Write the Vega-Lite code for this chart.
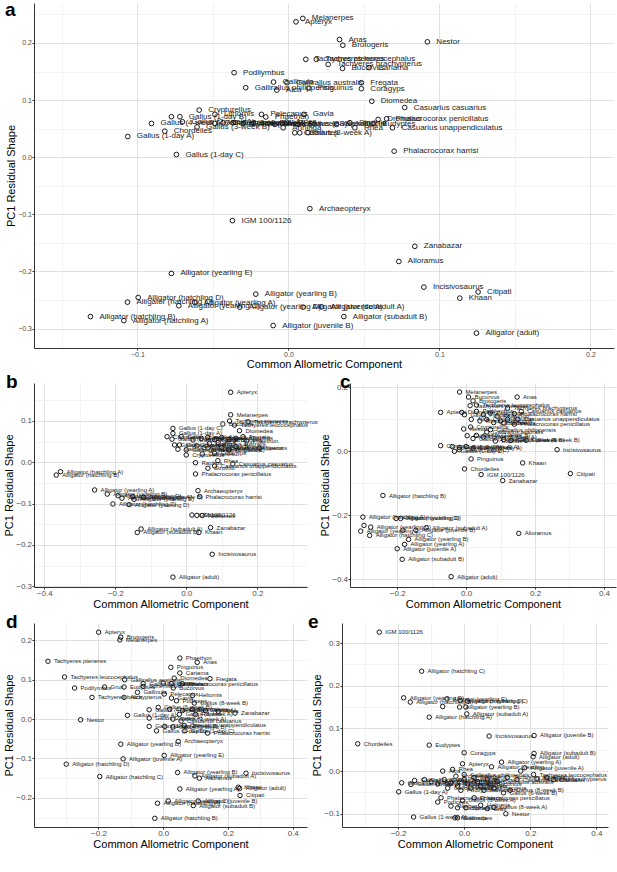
{
"$schema":"https://vega.github.io/schema/vega-lite/v6.json",
"padding":{"left":3,"top":1,"right":2,"bottom":0},
"background":"white",
"spacing":3,
"config":{
 "font":"Liberation Sans",
 "view":{"stroke":null},
 "concat":{"spacing":1},
 "axis":{"labelFont":"Liberation Sans","titleFont":"Liberation Sans","labelColor":"#4d4d4d","tickColor":"#333333","tickSize":2,"labelPadding":0.5,"domainColor":"#333333","domainWidth":1,"titleFontWeight":"normal","titleFontSize":11,"titleColor":"black","titlePadding":1,"grid":true,"gridWidth":0.8,"labelFlush":false,"labelOverlap":false,"labelFontSize":8},
 "title":{"font":"Liberation Sans","fontWeight":"bold","fontSize":19,"anchor":"start","frame":"group","color":"black"},
 "text":{"fill":"#1a1a1a"}
},
"datasets":{
"a":[
{"x":0.0095,"y":0.243,"label":"Melanerpes"},{"x":0.005,"y":0.237,"label":"Apteryx"},{"x":0.0338,"y":0.206,"label":"Anas"},{"x":0.036,"y":0.196,"label":"Brotogeris"},{"x":0.092,"y":0.202,"label":"Nestor"},
{"x":0.0115,"y":0.1714,"label":"Tachyeres pteneres"},{"x":0.0185,"y":0.1714,"label":"Tachyeres leucocephalus"},{"x":0.0263,"y":0.1626,"label":"Tachyeres brachypterus"},{"x":0.0358,"y":0.1556,"label":"Bucorvus"},{"x":0.0534,"y":0.1568,"label":"Cariama"},
{"x":-0.036,"y":0.148,"label":"Podilymbus"},{"x":-0.0099,"y":0.1316,"label":"Gallinula"},{"x":-0.001,"y":0.1305,"label":"Gallirallus australis"},{"x":-0.0283,"y":0.1217,"label":"Gallirallus philippensis"},{"x":-0.0077,"y":0.1175,"label":"Alca"},{"x":0.0135,"y":0.121,"label":"Pinguinus"},{"x":0.0483,"y":0.1305,"label":"Fregata"},{"x":0.0483,"y":0.12,"label":"Coragyps"},{"x":0.0552,"y":0.098,"label":"Diomedea"},{"x":0.077,"y":0.087,"label":"Casuarius casuarius"},
{"x":-0.0591,"y":0.0825,"label":"Crypturellus"},{"x":-0.0775,"y":0.0709,"label":""},{"x":-0.0719,"y":0.0709,"label":"Gallus (1-day B)"},{"x":-0.0487,"y":0.075,"label":"Lithornis"},{"x":-0.0179,"y":0.075,"label":"Pelecanus"},{"x":-0.015,"y":0.0705,"label":"Phaethon"},{"x":0.0102,"y":0.075,"label":"Gavia"},
{"x":-0.0907,"y":0.0591,"label":"Gallus (4-week A)"},{"x":-0.0702,"y":0.062,"label":"Gallus (2-week A)"},{"x":-0.0605,"y":0.053,"label":"Gallus (3-week B)"},{"x":-0.0487,"y":0.0591,"label":"Gallus (2-week B)"},{"x":-0.0432,"y":0.0604,"label":"Gallus (3-week A)"},{"x":-0.0366,"y":0.0604,"label":"Gallus (4-week B)"},{"x":-0.03,"y":0.059,"label":"Gallus (6-week A)"},{"x":-0.0234,"y":0.059,"label":"Rhea americana"},{"x":-0.009,"y":0.0574,"label":"Gallus (6-week B)"},{"x":-0.0035,"y":0.0516,"label":"Anhinga"},{"x":-0.0013,"y":0.0614,"label":"Ardea"},{"x":0.0064,"y":0.0574,"label":"Gallus (8-week B)"},{"x":0.0042,"y":0.0428,"label":"Cathartes"},{"x":0.0075,"y":0.0428,"label":"Gallus (8-week A)"},{"x":0.013,"y":0.043,"label":""},
{"x":-0.0819,"y":0.0456,"label":"Chordeiles"},{"x":-0.1064,"y":0.0363,"label":"Gallus (1-day A)"},{"x":-0.0742,"y":0.0047,"label":"Gallus (1-day C)"},
{"x":0.0318,"y":0.0574,"label":"Spheniscus"},{"x":0.0407,"y":0.0604,"label":"Struthio"},{"x":0.044,"y":0.0516,"label":"Rhea"},{"x":0.0561,"y":0.059,"label":"Eudyptes"},{"x":0.0594,"y":0.0661,"label":"Dromaius"},{"x":0.065,"y":0.0673,"label":"Phalacrocorax penicillatus"},{"x":0.0689,"y":0.0516,"label":"Casuarius unappendiculatus"},{"x":0.07,"y":0.0105,"label":"Phalacrocorax harrisi"},
{"x":0.0142,"y":-0.09,"label":"Archaeopteryx"},{"x":-0.0371,"y":-0.111,"label":"IGM 100/1126"},{"x":0.0837,"y":-0.156,"label":"Zanabazar"},{"x":0.0731,"y":-0.1825,"label":"Alioramus"},{"x":0.0897,"y":-0.2274,"label":"Incisivosaurus"},{"x":0.1256,"y":-0.236,"label":"Citipati"},{"x":0.1135,"y":-0.2467,"label":"Khaan"},{"x":0.1245,"y":-0.308,"label":"Alligator (adult)"},
{"x":0.0367,"y":-0.279,"label":"Alligator (subadult B)"},{"x":0.022,"y":-0.262,"label":"Alligator (subadult A)"},{"x":0.0097,"y":-0.2625,"label":"Alligator (juvenile A)"},{"x":-0.0101,"y":-0.2947,"label":"Alligator (juvenile B)"},{"x":-0.0216,"y":-0.2397,"label":"Alligator (yearling B)"},{"x":-0.0775,"y":-0.2035,"label":"Alligator (yearling E)"},{"x":-0.0995,"y":-0.2456,"label":"Alligator (hatchling D)"},{"x":-0.1066,"y":-0.2537,"label":"Alligator (hatchling C)"},{"x":-0.1311,"y":-0.279,"label":"Alligator (hatchling B)"},{"x":-0.109,"y":-0.286,"label":"Alligator (hatchling A)"},{"x":-0.0726,"y":-0.26,"label":"Alligator (yearling C)"},{"x":-0.062,"y":-0.2544,"label":"Alligator (yearling A)"},{"x":-0.0322,"y":-0.2625,"label":"Alligator (yearling D)"}
],
"b":[
{"x":0.125,"y":0.1695,"label":"Apteryx"},{"x":0.125,"y":0.115,"label":"Melanerpes"},{"x":0.122,"y":0.1,"label":"Tachyeres pteneres"},{"x":0.174,"y":0.098,"label":"Tachyeres brachypterus"},{"x":0.136,"y":0.09,"label":"Tachyeres leucocephalus"},{"x":0.103,"y":0.0927,"label":"Bucorvus"},{"x":0.15,"y":0.0765,"label":"Diomedea"},
{"x":-0.0375,"y":0.082,"label":"Gallus (1-day C)"},{"x":-0.0375,"y":0.07,"label":"Gallus (1-day A)"},{"x":-0.054,"y":0.062,"label":"Chordeiles"},{"x":-0.04,"y":0.056,"label":"Gallus (1-day B)"},{"x":-0.014,"y":0.062,"label":"Gallus (2-week A)"},{"x":-0.033,"y":0.042,"label":"Gallus (2-week B)"},{"x":-0.019,"y":0.042,"label":"Gallus (3-week A)"},{"x":-0.0235,"y":0.0315,"label":"Gallus (3-week B)"},{"x":0.0,"y":0.0177,"label":"Crypturellus"},{"x":0.0,"y":0.03,"label":"Gallus (4-week A)"},{"x":0.019,"y":0.054,"label":"Gallus (4-week B)"},{"x":0.042,"y":0.058,"label":"Gallus (6-week A)"},
{"x":0.06,"y":0.06,"label":"Pelecanus"},{"x":0.08,"y":0.055,"label":"Gavia"},{"x":0.1,"y":0.06,"label":"Anas"},{"x":0.12,"y":0.055,"label":"Brotogeris"},{"x":0.14,"y":0.058,"label":"Podilymbus"},{"x":0.16,"y":0.062,"label":"Fregata"},{"x":0.17,"y":0.052,"label":"Phaethon"},{"x":0.065,"y":0.045,"label":"Gallirallus australis"},{"x":0.09,"y":0.048,"label":"Alca"},{"x":0.03,"y":0.04,"label":"Gallus (6-week B)"},{"x":0.05,"y":0.035,"label":"Gallus (8-week A)"},{"x":0.07,"y":0.03,"label":"Gallus (8-week B)"},{"x":0.1,"y":0.035,"label":"Gallirallus philippensis"},{"x":0.12,"y":0.03,"label":"Pinguinus"},{"x":0.14,"y":0.038,"label":"Cariama"},{"x":0.2065,"y":0.034,"label":"Nestor"},{"x":0.08,"y":0.022,"label":"Coragyps"},{"x":0.045,"y":0.02,"label":"Cathartes"},
{"x":0.026,"y":-0.001,"label":"Raphus"},{"x":0.089,"y":0.004,"label":"Rhea"},{"x":0.131,"y":-0.004,"label":"Casuarius casuarius"},{"x":0.061,"y":-0.0145,"label":"Struthio"},{"x":0.08,"y":-0.009,"label":"Casuarius unappendiculatus"},{"x":0.026,"y":-0.0283,"label":"Phalacrocorax penicillatus"},
{"x":-0.354,"y":-0.0227,"label":"Alligator (hatchling A)"},{"x":-0.366,"y":-0.031,"label":"Alligator (hatchling B)"},{"x":-0.258,"y":-0.067,"label":"Alligator (yearling A)"},{"x":-0.2225,"y":-0.077,"label":"Alligator (yearling B)"},{"x":-0.192,"y":-0.081,"label":"Alligator (hatchling D)"},{"x":-0.181,"y":-0.087,"label":"Alligator (yearling C)"},{"x":-0.15,"y":-0.083,"label":"Alligator (juvenile A)"},{"x":-0.147,"y":-0.0897,"label":"Alligator (yearling E)"},{"x":-0.12,"y":-0.085,"label":"Alligator (juvenile B)"},{"x":-0.2065,"y":-0.101,"label":"Alligator (hatchling C)"},{"x":-0.161,"y":-0.1025,"label":"Alligator (yearling D)"},
{"x":0.033,"y":-0.0687,"label":"Archaeopteryx"},{"x":0.0375,"y":-0.083,"label":"Phalacrocorax harrisi"},{"x":0.016,"y":-0.1276,"label":"IGM 100/1126"},{"x":0.03,"y":-0.1285,"label":"Citipati"},{"x":0.045,"y":-0.129,"label":"Alioramus"},{"x":0.0685,"y":-0.158,"label":"Zanabazar"},{"x":-0.127,"y":-0.1615,"label":"Alligator (subadult A)"},{"x":-0.138,"y":-0.17,"label":"Alligator (subadult B)"},{"x":0.0357,"y":-0.17,"label":"Khaan"},{"x":0.0732,"y":-0.2228,"label":"Incisivosaurus"},{"x":-0.0375,"y":-0.278,"label":"Alligator (adult)"}
],
"c":[
{"x":-0.019,"y":0.1856,"label":"Melanerpes"},{"x":0.007,"y":0.17,"label":"Bucorvus"},{"x":0.148,"y":0.17,"label":"Anas"},{"x":0.02,"y":0.158,"label":"Brotogeris"},{"x":0.0116,"y":0.143,"label":"Tachyeres pteneres"},{"x":-0.074,"y":0.122,"label":"Apteryx"},{"x":-0.0125,"y":0.122,"label":"Diomedea"},{"x":-0.005,"y":0.1147,"label":"Gavia"},
{"x":0.03,"y":0.145,"label":"Tachyeres leucocephalus"},{"x":0.16,"y":0.125,"label":"Casuarius casuarius"},{"x":0.12,"y":0.135,"label":"Tachyeres brachypterus"},{"x":0.14,"y":0.118,"label":"Phalacrocorax harrisi"},{"x":0.15,"y":0.1,"label":"Casuarius unappendiculatus"},{"x":0.03,"y":0.125,"label":"Podilymbus"},{"x":0.05,"y":0.115,"label":"Fregata"},{"x":0.07,"y":0.12,"label":"Pelecanus"},{"x":0.09,"y":0.11,"label":"Phaethon"},{"x":0.06,"y":0.1,"label":"Cariama"},{"x":0.1,"y":0.095,"label":"Coragyps"},{"x":0.08,"y":0.09,"label":"Cathartes"},{"x":0.12,"y":0.1,"label":"Struthio"},{"x":0.11,"y":0.088,"label":"Dromaius"},{"x":0.04,"y":0.095,"label":"Rhea"},{"x":0.015,"y":0.1,"label":"Alca"},{"x":0.14,"y":0.085,"label":"Phalacrocorax penicillatus"},
{"x":-0.007,"y":0.07,"label":"Nestor"},{"x":0.013,"y":0.076,"label":"Crypturellus"},{"x":0.071,"y":0.068,"label":"Gallirallus philippensis"},{"x":0.06,"y":0.06,"label":"Gallirallus australis"},{"x":0.003,"y":0.049,"label":"Gallus (4-week A)"},{"x":0.03,"y":0.05,"label":"Gallus (3-week B)"},{"x":0.05,"y":0.045,"label":"Gallus (6-week A)"},{"x":0.02,"y":0.04,"label":"Gallus (2-week B)"},{"x":0.109,"y":0.0366,"label":"Gallus (8-week A)"},{"x":0.174,"y":0.0344,"label":"Gallus (8-week B)"},{"x":0.13,"y":0.034,"label":"Gallus (6-week B)"},{"x":0.085,"y":0.032,"label":"Raphus"},
{"x":-0.074,"y":0.0178,"label":"Corvus"},{"x":-0.04,"y":0.015,"label":"Gallus (1-day B)"},{"x":-0.02,"y":0.012,"label":"Gallus (2-week A)"},{"x":0.0,"y":0.015,"label":"Gallus (3-week A)"},{"x":0.02,"y":0.01,"label":"Gallus (1-day A)"},{"x":-0.034,"y":0.0,"label":"Gallus (1-day D)"},{"x":-0.02,"y":0.005,"label":"Gallus (1-day C)"},
{"x":0.264,"y":0.0053,"label":"Incisivosaurus"},{"x":0.0145,"y":-0.0238,"label":"Pinguinus"},{"x":0.164,"y":-0.0363,"label":"Khaan"},{"x":-0.0046,"y":-0.055,"label":"Chordeiles"},{"x":0.0435,"y":-0.0728,"label":"IGM 100/1126"},{"x":0.3026,"y":-0.0697,"label":"Citipati"},{"x":0.106,"y":-0.0916,"label":"Zanabazar"},
{"x":-0.2415,"y":-0.1384,"label":"Alligator (hatchling B)"},{"x":-0.2995,"y":-0.206,"label":"Alligator (hatchling A)"},{"x":-0.203,"y":-0.2103,"label":"Alligator (hatchling D)"},{"x":-0.19,"y":-0.2103,"label":"Alligator (yearling D)"},{"x":-0.2965,"y":-0.232,"label":""},{"x":-0.306,"y":-0.25,"label":"Alligator (yearling E)"},{"x":-0.277,"y":-0.2375,"label":"Alligator (yearling C)"},{"x":-0.28,"y":-0.2635,"label":"Alligator (hatchling C)"},{"x":-0.1835,"y":-0.2468,"label":""},{"x":-0.146,"y":-0.247,"label":"Alligator (juvenile B)"},{"x":-0.116,"y":-0.2395,"label":"Alligator (subadult A)"},
{"x":-0.167,"y":-0.276,"label":"Alligator (yearling B)"},{"x":-0.1786,"y":-0.2916,"label":"Alligator (yearling A)"},{"x":-0.2,"y":-0.305,"label":"Alligator (juvenile A)"},{"x":-0.1855,"y":-0.3384,"label":"Alligator (subadult B)"},{"x":-0.0435,"y":-0.3925,"label":"Alligator (adult)"},{"x":0.1528,"y":-0.257,"label":"Alioramus"}
],
"d":[
{"x":-0.1994,"y":0.2206,"label":"Apteryx"},{"x":-0.131,"y":0.208,"label":"Brotogeris"},{"x":-0.134,"y":0.201,"label":"Melanerpes"},{"x":-0.356,"y":0.1468,"label":"Tachyeres pteneres"},{"x":0.0514,"y":0.155,"label":"Phaethon"},{"x":0.105,"y":0.144,"label":"Anas"},{"x":0.0235,"y":0.1315,"label":"Pinguinus"},{"x":0.0514,"y":0.117,"label":"Cariama"},{"x":-0.3046,"y":0.1069,"label":"Tachyeres leucocephalus"},{"x":-0.119,"y":0.1,"label":"Gallirallus australis"},{"x":0.034,"y":0.104,"label":"Diomedea"},{"x":0.1443,"y":0.1026,"label":"Fregata"},
{"x":0.0,"y":0.0916,"label":"Coragyps"},{"x":0.025,"y":0.09,"label":"Cathartes"},{"x":-0.062,"y":0.09,"label":"Gallirallus philippensis"},{"x":0.059,"y":0.09,"label":"Phalacrocorax penicillatus"},{"x":-0.2737,"y":0.0789,"label":"Podilymbus"},{"x":-0.181,"y":0.0814,"label":"Grus"},{"x":-0.121,"y":0.0814,"label":"Eudyptes"},{"x":-0.062,"y":0.083,"label":"Spheniscus"},{"x":0.031,"y":0.079,"label":"Bucorvus"},{"x":-0.0796,"y":0.068,"label":"Gallinula"},{"x":-0.2198,"y":0.0552,"label":"Tachyeres brachypterus"},{"x":-0.1207,"y":0.0552,"label":"Alca"},{"x":0.003,"y":0.0636,"label":"Pelecanus"},{"x":0.0257,"y":0.0534,"label":"Gavia"},{"x":0.041,"y":0.0466,"label":"Podiceps"},{"x":0.0907,"y":0.06,"label":"Heliornis"},{"x":0.096,"y":0.0407,"label":"Gallus (8-week B)"},
{"x":-0.0155,"y":0.0298,"label":"Gallus (6-week B)"},{"x":-0.0433,"y":0.0237,"label":"Gallus (4-week B)"},{"x":0.02,"y":0.025,"label":"Crypturellus"},{"x":0.06,"y":0.022,"label":"Gallus (6-week A)"},{"x":0.09,"y":0.025,"label":"Dromaius"},{"x":0.13,"y":0.022,"label":"Struthio"},{"x":0.17,"y":0.02,"label":"Rhea"},{"x":0.2217,"y":0.0153,"label":"Zanabazar"},{"x":0.05,"y":0.012,"label":"Gallus (8-week A)"},{"x":0.1,"y":0.012,"label":"Raphus"},{"x":-0.1105,"y":0.0094,"label":"Gallus (1-day A)"},{"x":-0.255,"y":-0.0017,"label":"Nestor"},{"x":-0.0433,"y":0.0025,"label":"Gallus (2-week A)"},{"x":0.03,"y":0.0,"label":"Gallus (3-week A)"},{"x":0.055,"y":-0.005,"label":"Casuarius casuarius"},
{"x":-0.0433,"y":-0.0186,"label":"Gallus (1-day B)"},{"x":0.005,"y":-0.0186,"label":"Gallus (2-week B)"},{"x":-0.0207,"y":-0.0297,"label":"Gallus (1-day D)"},{"x":0.03,"y":-0.02,"label":"Gallus (3-week B)"},{"x":0.065,"y":-0.0161,"label":"Casuarius unappendiculatus"},{"x":0.067,"y":-0.0297,"label":"Gallus (1-day C)"},{"x":0.137,"y":-0.0356,"label":"Phalacrocorax harrisi"},{"x":0.0464,"y":-0.0568,"label":"Archaeopteryx"},
{"x":-0.131,"y":-0.0636,"label":"Alligator (yearling D)"},{"x":-0.1238,"y":-0.101,"label":"Alligator (juvenile A)"},{"x":0.003,"y":-0.0924,"label":"Alligator (yearling E)"},{"x":-0.2994,"y":-0.1145,"label":"Alligator (hatchling D)"},{"x":-0.196,"y":-0.1458,"label":"Alligator (hatchling C)"},{"x":0.0443,"y":-0.1356,"label":"Alligator (yearling B)"},{"x":0.0978,"y":-0.1442,"label":"Alligator (subadult A)"},{"x":0.1115,"y":-0.15,"label":"Alioramus"},{"x":0.2557,"y":-0.1374,"label":"Incisivosaurus"},{"x":0.0514,"y":-0.1773,"label":"Alligator (yearling A)"},{"x":0.232,"y":-0.173,"label":"Khaan"},{"x":0.236,"y":-0.176,"label":"Alligator (adult)"},{"x":0.2372,"y":-0.194,"label":"Citipati"},{"x":0.0155,"y":-0.2078,"label":"Alligator (yearling C)"},{"x":-0.0176,"y":-0.2137,"label":"Alligator (hatchling A)"},{"x":0.0929,"y":-0.2196,"label":"Alligator (subadult B)"},{"x":0.108,"y":-0.208,"label":"Alligator (juvenile B)"},{"x":-0.026,"y":-0.252,"label":"Alligator (hatchling B)"}
],
"e":[
{"x":-0.2568,"y":0.3255,"label":"IGM 100/1126"},{"x":-0.1287,"y":0.234,"label":"Alligator (hatchling C)"},{"x":-0.183,"y":0.1717,"label":"Alligator (yearling D)"},{"x":-0.163,"y":0.1616,"label":"Alligator (hatchling B)"},{"x":-0.0523,"y":0.1693,"label":"Alligator (yearling E)"},{"x":-0.012,"y":0.1654,"label":"Alligator (hatchling D)"},{"x":0.01,"y":0.164,"label":"Alligator (yearling C)"},{"x":-0.065,"y":0.1513,"label":""},{"x":-0.0139,"y":0.15,"label":"Alligator (yearling B)"},{"x":0.005,"y":0.15,"label":""},{"x":0.008,"y":0.134,"label":"Alligator (subadult A)"},{"x":-0.1057,"y":0.1264,"label":"Alligator (hatchling A)"},
{"x":0.0755,"y":0.082,"label":"Incisivosaurus"},{"x":0.2115,"y":0.0834,"label":"Alligator (juvenile B)"},{"x":-0.322,"y":0.064,"label":"Chordeiles"},{"x":-0.1057,"y":0.0609,"label":"Eudyptes"},{"x":0.0,"y":0.0429,"label":"Coragyps"},{"x":0.2115,"y":0.0413,"label":"Alligator (subadult B)"},{"x":0.2085,"y":0.0335,"label":"Alligator (adult)"},{"x":0.113,"y":0.021,"label":"Alligator (yearling A)"},{"x":-0.005,"y":0.0171,"label":"Apteryx"},{"x":0.0828,"y":0.01,"label":"Alligator (yearling ...)"},{"x":0.1834,"y":0.0077,"label":"Alligator (juvenile A)"},{"x":0.171,"y":0.0,"label":""},{"x":-0.065,"y":0.0,"label":"Alca"},{"x":-0.035,"y":0.004,"label":"Rhea"},
{"x":-0.189,"y":-0.0274,"label":"Gallus (1-day B)"},{"x":-0.161,"y":-0.0313,"label":"Gallus (1-day C)"},{"x":-0.198,"y":-0.0485,"label":"Gallus (1-day A)"},{"x":-0.15,"y":-0.022,"label":"Gallus (1-day D)"},{"x":-0.12,"y":-0.02,"label":"Gallus (2-week A)"},{"x":-0.1,"y":-0.025,"label":"Gallus (2-week B)"},{"x":-0.08,"y":-0.03,"label":"Gallus (3-week A)"},{"x":-0.06,"y":-0.02,"label":"Gallus (3-week B)"},{"x":-0.05,"y":-0.04,"label":"Gallus (4-week A)"},{"x":-0.04,"y":-0.028,"label":"Gallus (4-week B)"},{"x":-0.025,"y":-0.012,"label":"Archaeopteryx"},{"x":-0.02,"y":-0.035,"label":"Crypturellus"},{"x":-0.01,"y":-0.045,"label":"Podilymbus"},{"x":0.0,"y":-0.02,"label":"Diomedea"},{"x":0.01,"y":-0.03,"label":"Cariama"},{"x":0.02,"y":-0.04,"label":"Anas"},{"x":0.03,"y":-0.015,"label":"Brotogeris"},{"x":0.04,"y":-0.025,"label":"Gavia"},{"x":0.05,"y":-0.035,"label":"Fregata"},{"x":0.06,"y":-0.045,"label":"Pelecanus"},{"x":0.07,"y":-0.02,"label":"Phaethon"},{"x":0.08,"y":-0.03,"label":"Bucorvus"},{"x":0.09,"y":-0.04,"label":"Pinguinus"},{"x":0.1,"y":-0.025,"label":"Gallirallus australis"},{"x":0.119,"y":-0.0508,"label":"Gallus (6-week B)"},{"x":0.139,"y":-0.045,"label":"Gallus (8-week B)"},{"x":0.13,"y":-0.015,"label":"Tachyeres pteneres"},{"x":0.16,"y":-0.02,"label":"Casuarius casuarius"},{"x":0.21,"y":-0.008,"label":"Tachyeres leucocephalus"},{"x":0.22,"y":-0.018,"label":"Tachyeres brachypterus"},{"x":0.25,"y":-0.015,"label":"Struthio"},{"x":0.27,"y":-0.02,"label":"Dromaius"},{"x":0.0,"y":-0.008,"label":"Gallirallus philippensis"},
{"x":-0.07,"y":-0.0625,"label":"Phalacrocorax harrisi"},{"x":-0.08,"y":-0.0726,"label":"Podiceps"},{"x":0.03,"y":-0.0625,"label":"Phalacrocorax penicillatus"},{"x":-0.005,"y":-0.0688,"label":"Gallus (6-week A)"},{"x":-0.04,"y":-0.082,"label":"Raphus"},{"x":-0.02,"y":-0.086,"label":"Cathartes"},{"x":0.005,"y":-0.086,"label":"Spheniscus"},{"x":0.05,"y":-0.08,"label":"Heliornis"},{"x":0.07,"y":-0.088,"label":"Grus"},{"x":0.09,"y":-0.085,"label":"Gallus (8-week A)"},{"x":0.126,"y":-0.1,"label":"Nestor"},{"x":-0.153,"y":-0.1077,"label":"Gallus (1-week A)"},{"x":-0.028,"y":-0.1094,"label":"Melanerpes"},{"x":-0.02,"y":-0.1094,"label":"Gallinula"}
]
},
"vconcat":[
{
 "width":580,"height":345,
 "title":{"text":"a","dx":-29,"offset":-17},
 "data":{"name":"a"},
 "encoding":{
  "x":{"field":"x","type":"quantitative","scale":{"domain":[-0.1685,0.2156],"nice":false,"zero":false},
   "axis":{"title":"Common Allometric Component","labelFontSize":7,"values":[-0.15,-0.1,-0.05,0,0.05,0.1,0.15,0.2],
    "labelExpr":"abs(datum.value*10-round(datum.value*10))<0.01 ? format(datum.value,'.1f') : ''",
    "gridColor":{"condition":{"test":"abs(datum.value*10-round(datum.value*10))>=0.01","value":"#efefef"},"value":"#d9d9d9"},
    "tickOpacity":{"condition":{"test":"abs(datum.value*10-round(datum.value*10))>=0.01","value":0},"value":1}}},
  "y":{"field":"y","type":"quantitative","scale":{"domain":[-0.334,0.27],"nice":false,"zero":false},
   "axis":{"title":"PC1 Residual Shape","labelFontSize":7,"values":[-0.3,-0.25,-0.2,-0.15,-0.1,-0.05,0,0.05,0.1,0.15,0.2,0.25],
    "labelExpr":"abs(datum.value*10-round(datum.value*10))<0.01 ? format(datum.value,'.1f') : ''",
    "gridColor":{"condition":{"test":"abs(datum.value*10-round(datum.value*10))>=0.01","value":"#efefef"},"value":"#d9d9d9"},
    "tickOpacity":{"condition":{"test":"abs(datum.value*10-round(datum.value*10))>=0.01","value":0},"value":1}}}
 },
 "layer":[
  {"mark":{"type":"point","shape":"circle","filled":false,"stroke":"black","strokeWidth":0.9,"size":22,"opacity":1}},
  {"mark":{"type":"text","align":"left","baseline":"middle","dx":9,"fontSize":8,"fill":"#1a1a1a","color":"#1a1a1a","opacity":0.99},"encoding":{"text":{"field":"label"}}}
 ]
},
{"hconcat":[
{
 "width":273,"height":204,
 "title":{"text":"b","dx":-28,"offset":-9},
 "data":{"name":"b"},
 "encoding":{
  "x":{"field":"x","type":"quantitative","scale":{"domain":[-0.4287,0.34],"nice":false,"zero":false},
   "axis":{"title":"Common Allometric Component","values":[-0.4,-0.3,-0.2,-0.1,0,0.1,0.2,0.3],
    "labelExpr":"abs(datum.value*5-round(datum.value*5))<0.01 ? format(datum.value,'.1f') : ''",
    "gridColor":{"condition":{"test":"abs(datum.value*5-round(datum.value*5))>=0.01","value":"#efefef"},"value":"#d9d9d9"},
    "tickOpacity":{"condition":{"test":"abs(datum.value*5-round(datum.value*5))>=0.01","value":0},"value":1}}},
  "y":{"field":"y","type":"quantitative","scale":{"domain":[-0.302,0.192],"nice":false,"zero":false},
   "axis":{"title":"PC1 Residual Shape","values":[-0.3,-0.25,-0.2,-0.15,-0.1,-0.05,0,0.05,0.1,0.15],
    "labelExpr":"abs(datum.value*10-round(datum.value*10))<0.01 ? format(datum.value,'.1f') : ''",
    "gridColor":{"condition":{"test":"abs(datum.value*10-round(datum.value*10))>=0.01","value":"#efefef"},"value":"#d9d9d9"},
    "tickOpacity":{"condition":{"test":"abs(datum.value*10-round(datum.value*10))>=0.01","value":0},"value":1}}}
 },
 "layer":[
  {"mark":{"type":"point","shape":"circle","filled":false,"stroke":"black","strokeWidth":0.9,"size":20,"opacity":1}},
  {"mark":{"type":"text","align":"left","baseline":"middle","dx":6,"fontSize":6,"fill":"#1a1a1a","color":"#1a1a1a","opacity":0.99},"encoding":{"text":{"field":"label"}}}
 ]
},
{
 "width":266,"height":204,
 "title":{"text":"c","dx":-10,"offset":-9},
 "data":{"name":"c"},
 "encoding":{
  "x":{"field":"x","type":"quantitative","scale":{"domain":[-0.337,0.435],"nice":false,"zero":false},
   "axis":{"title":"Common Allometric Component","values":[-0.3,-0.2,-0.1,0,0.1,0.2,0.3,0.4],
    "labelExpr":"abs(datum.value*5-round(datum.value*5))<0.01 ? format(datum.value,'.1f') : ''",
    "gridColor":{"condition":{"test":"abs(datum.value*5-round(datum.value*5))>=0.01","value":"#efefef"},"value":"#d9d9d9"},
    "tickOpacity":{"condition":{"test":"abs(datum.value*5-round(datum.value*5))>=0.01","value":0},"value":1}}},
  "y":{"field":"y","type":"quantitative","scale":{"domain":[-0.425,0.214],"nice":false,"zero":false},
   "axis":{"title":"PC1 Residual Shape","values":[-0.4,-0.3,-0.2,-0.1,0,0.1,0.2],
    "labelExpr":"abs(datum.value*5-round(datum.value*5))<0.01 ? format(datum.value,'.1f') : ''",
    "gridColor":{"condition":{"test":"abs(datum.value*5-round(datum.value*5))>=0.01","value":"#efefef"},"value":"#d9d9d9"},
    "tickOpacity":{"condition":{"test":"abs(datum.value*5-round(datum.value*5))>=0.01","value":0},"value":1}}}
 },
 "layer":[
  {"mark":{"type":"point","shape":"circle","filled":false,"stroke":"black","strokeWidth":0.9,"size":20,"opacity":1}},
  {"mark":{"type":"text","align":"left","baseline":"middle","dx":6,"fontSize":6,"fill":"#1a1a1a","color":"#1a1a1a","opacity":0.99},"encoding":{"text":{"field":"label"}}}
 ]
}
]},
{"hconcat":[
{
 "width":273,"height":204,
 "title":{"text":"d","dx":-28,"offset":-9},
 "data":{"name":"d"},
 "encoding":{
  "x":{"field":"x","type":"quantitative","scale":{"domain":[-0.399,0.444],"nice":false,"zero":false},
   "axis":{"title":"Common Allometric Component","values":[-0.3,-0.2,-0.1,0,0.1,0.2,0.3,0.4],
    "labelExpr":"abs(datum.value*5-round(datum.value*5))<0.01 ? format(datum.value,'.1f') : ''",
    "gridColor":{"condition":{"test":"abs(datum.value*5-round(datum.value*5))>=0.01","value":"#efefef"},"value":"#d9d9d9"},
    "tickOpacity":{"condition":{"test":"abs(datum.value*5-round(datum.value*5))>=0.01","value":0},"value":1}}},
  "y":{"field":"y","type":"quantitative","scale":{"domain":[-0.274,0.244],"nice":false,"zero":false},
   "axis":{"title":"PC1 Residual Shape","values":[-0.25,-0.2,-0.15,-0.1,-0.05,0,0.05,0.1,0.15,0.2],
    "labelExpr":"abs(datum.value*10-round(datum.value*10))<0.01 ? format(datum.value,'.1f') : ''",
    "gridColor":{"condition":{"test":"abs(datum.value*10-round(datum.value*10))>=0.01","value":"#efefef"},"value":"#d9d9d9"},
    "tickOpacity":{"condition":{"test":"abs(datum.value*10-round(datum.value*10))>=0.01","value":0},"value":1}}}
 },
 "layer":[
  {"mark":{"type":"point","shape":"circle","filled":false,"stroke":"black","strokeWidth":0.9,"size":20,"opacity":1}},
  {"mark":{"type":"text","align":"left","baseline":"middle","dx":6,"fontSize":6,"fill":"#1a1a1a","color":"#1a1a1a","opacity":0.99},"encoding":{"text":{"field":"label"}}}
 ]
},
{
 "width":266,"height":204,
 "title":{"text":"e","dx":-34,"offset":-9},
 "data":{"name":"e"},
 "encoding":{
  "x":{"field":"x","type":"quantitative","scale":{"domain":[-0.3695,0.435],"nice":false,"zero":false},
   "axis":{"title":"Common Allometric Component","values":[-0.3,-0.2,-0.1,0,0.1,0.2,0.3,0.4],
    "labelExpr":"abs(datum.value*5-round(datum.value*5))<0.01 ? format(datum.value,'.1f') : ''",
    "gridColor":{"condition":{"test":"abs(datum.value*5-round(datum.value*5))>=0.01","value":"#efefef"},"value":"#d9d9d9"},
    "tickOpacity":{"condition":{"test":"abs(datum.value*5-round(datum.value*5))>=0.01","value":0},"value":1}}},
  "y":{"field":"y","type":"quantitative","scale":{"domain":[-0.131,0.347],"nice":false,"zero":false},
   "axis":{"title":"PC1 Residual Shape","values":[-0.1,-0.05,0,0.05,0.1,0.15,0.2,0.25,0.3],
    "labelExpr":"abs(datum.value*10-round(datum.value*10))<0.01 ? format(datum.value,'.1f') : ''",
    "gridColor":{"condition":{"test":"abs(datum.value*10-round(datum.value*10))>=0.01","value":"#efefef"},"value":"#d9d9d9"},
    "tickOpacity":{"condition":{"test":"abs(datum.value*10-round(datum.value*10))>=0.01","value":0},"value":1}}}
 },
 "layer":[
  {"mark":{"type":"point","shape":"circle","filled":false,"stroke":"black","strokeWidth":0.9,"size":20,"opacity":1}},
  {"mark":{"type":"text","align":"left","baseline":"middle","dx":6,"fontSize":6,"fill":"#1a1a1a","color":"#1a1a1a","opacity":0.99},"encoding":{"text":{"field":"label"}}}
 ]
}
]}
]
}
